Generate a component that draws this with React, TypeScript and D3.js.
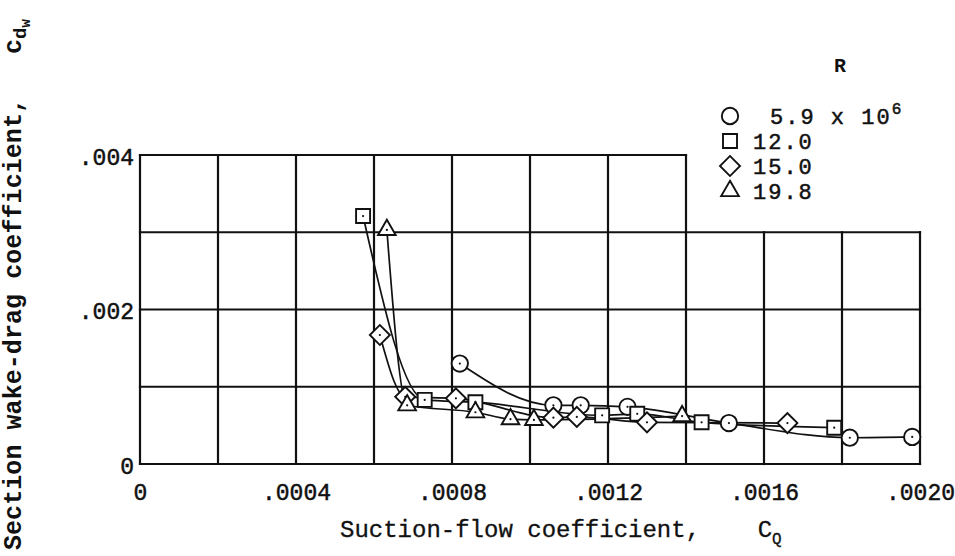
import React, { useEffect, useRef } from 'react';
import * as d3 from 'd3';

// axis ticks
const xTicks = [0, 0.0004, 0.0008, 0.0012, 0.0016, 0.002];
const xTickLabels = ['0', '.0004', '.0008', '.0012', '.0016', '.0020'];
const yTicks = [0, 0.002, 0.004];
const yTickLabels = ['0', '.002', '.004'];

// R = 5.9 x 10^6 (circles)
const circleCQ = [0.00082, 0.00106, 0.00113, 0.00125, 0.00151, 0.00182, 0.00198];
const circleCD = [0.0013, 0.00076, 0.00076, 0.00074, 0.00053, 0.00034, 0.00035];
// R = 12.0 (squares)
const squareCQ = [0.000572, 0.00073, 0.00086, 0.001185, 0.001275, 0.00144, 0.00178];
const squareCD = [0.00321, 0.00083, 0.0008, 0.00063, 0.00065, 0.00054, 0.00047];
// R = 15.0 (diamonds)
const diamondCQ = [0.000615, 0.00068, 0.00081, 0.00106, 0.00112, 0.0013, 0.00166];
const diamondCD = [0.00167, 0.00087, 0.00085, 0.0006, 0.00061, 0.00054, 0.00053];
// R = 19.8 (triangles)
const triangleCQ = [0.000633, 0.000685, 0.00086, 0.00095, 0.00101, 0.00139];
const triangleCD = [0.00303, 0.00076, 0.00067, 0.00058, 0.00057, 0.00062];

const legendLabels = ['5.9', '12.0', '15.0', '19.8'];

const MONO = "'Liberation Mono', 'DejaVu Sans Mono', monospace";
const INK = '#111';

export default function App() {
    const svgRef = useRef<SVGSVGElement>(null);

    useEffect(() => {
        const svg = d3.select(svgRef.current);
        svg.selectAll('*').remove();

        const x = d3.scaleLinear().domain([0, 0.002]).range([140, 920]);
        const y = d3.scaleLinear().domain([0, 0.004]).range([464, 155]);

        svg.append('rect').attr('width', 955).attr('height', 556).attr('fill', '#fff');

        // ---- Grid (stepped frame: top row stops at .0014)
        const grid = svg.append('g').attr('stroke', INK).attr('stroke-width', 2.2).attr('stroke-linecap', 'square');
        const gx = d3.range(0, 11).map(i => i * 0.0002);
        gx.forEach(v => {
            grid.append('line')
                .attr('x1', x(v)).attr('x2', x(v))
                .attr('y1', y(0)).attr('y2', y(v <= 0.00141 ? 0.004 : 0.003));
        });
        [0, 0.001, 0.002, 0.003].forEach(v => {
            grid.append('line')
                .attr('x1', x(0)).attr('x2', x(0.002))
                .attr('y1', y(v)).attr('y2', y(v));
        });
        grid.append('line')
            .attr('x1', x(0)).attr('x2', x(0.0014))
            .attr('y1', y(0.004)).attr('y2', y(0.004));

        // ---- Axes labels
        const xAxis = d3.axisBottom(x)
            .tickValues(xTicks)
            .tickSize(0)
            .tickPadding(0)
            .tickFormat((d, i) => xTickLabels[i]);
        const gxa = svg.append('g').attr('transform', `translate(0,${y(0) + 20})`).call(xAxis);
        gxa.select('.domain').remove();
        gxa.selectAll('text')
            .attr('dy', null)
            .attr('y', 16)
            .style('font-family', MONO)
            .style('font-size', '23px')
            .attr('fill', INK)
            .attr('stroke', INK)
            .attr('stroke-width', 0.5);

        const yAxis = d3.axisLeft(y)
            .tickValues(yTicks)
            .tickSize(0)
            .tickPadding(0)
            .tickFormat((d, i) => yTickLabels[i]);
        const gya = svg.append('g').attr('transform', `translate(134,0)`).call(yAxis);
        gya.select('.domain').remove();
        gya.selectAll('text')
            .attr('dy', '0.4em')
            .style('font-family', MONO)
            .style('font-size', '23px')
            .attr('fill', INK)
            .attr('stroke', INK)
            .attr('stroke-width', 0.5);

        // x title
        const xt = svg.append('text')
            .attr('x', 340)
            .attr('y', 537)
            .attr('fill', INK)
            .attr('stroke', INK)
            .attr('stroke-width', 0.3)
            .style('font-family', MONO)
            .style('font-size', '24px')
            .style('white-space', 'pre');
        xt.append('tspan').text('Suction-flow coefficient,    C');
        xt.append('tspan').attr('dy', 7).style('font-size', '16px').text('Q');

        // y title (main part stretched to reach near the top)
        svg.append('text')
            .attr('transform', 'translate(21,550) rotate(-90)')
            .attr('fill', INK)
            .attr('textLength', 452)
            .attr('lengthAdjust', 'spacing')
            .style('font-family', MONO)
            .style('font-weight', 'bold')
            .style('font-size', '25px')
            .text('Section wake-drag coefficient,');
        const yt2 = svg.append('text')
            .attr('transform', 'translate(21,54) rotate(-90)')
            .attr('fill', INK)
            .style('font-family', MONO)
            .style('font-weight', 'bold')
            .style('font-size', '25px');
        yt2.append('tspan').text('c');
        yt2.append('tspan').attr('dy', 5).style('font-size', '19px').text('d');
        yt2.append('tspan').attr('dy', 4).style('font-size', '14px').text('w');

        // ---- Series
        const series = [
            { cq: circleCQ, cd: circleCD, shape: 'circle' },
            { cq: squareCQ, cd: squareCD, shape: 'square' },
            { cq: diamondCQ, cd: diamondCD, shape: 'diamond' },
            { cq: triangleCQ, cd: triangleCD, shape: 'triangle' },
        ];

        const symbolPath = (shape: string) => {
            if (shape === 'circle') return d3.symbol(d3.symbolCircle, 210)();
            if (shape === 'square') return d3.symbol(d3.symbolSquare, 196)();
            if (shape === 'diamond') return d3.symbol(d3.symbolSquare, 200)();
            return d3.symbol(d3.symbolTriangle, 135)();
        };

        const line = d3.line<[number, number]>()
            .x(d => x(d[0]))
            .y(d => y(d[1]))
            .curve(d3.curveMonotoneX);

        series.forEach(s => {
            const pts = s.cq.map((v, i) => [v, s.cd[i]] as [number, number]).sort((a, b) => a[0] - b[0]);
            svg.append('path')
                .datum(pts)
                .attr('fill', 'none')
                .attr('stroke', INK)
                .attr('stroke-width', 1.7)
                .attr('d', line);
        });

        series.forEach(s => {
            s.cq.forEach((v, i) => {
                const rot = s.shape === 'diamond' ? ' rotate(45)' : '';
                svg.append('path')
                    .attr('d', symbolPath(s.shape))
                    .attr('transform', `translate(${x(v)},${y(s.cd[i])})${rot}`)
                    .attr('fill', '#fff')
                    .attr('stroke', INK)
                    .attr('stroke-width', 1.9);
                svg.append('circle')
                    .attr('cx', x(v))
                    .attr('cy', y(s.cd[i]))
                    .attr('r', 1.1)
                    .attr('fill', INK);
            });
        });

        // ---- Legend
        svg.append('text')
            .attr('x', 840)
            .attr('y', 72)
            .attr('text-anchor', 'middle')
            .attr('fill', INK)
            .style('font-family', MONO)
            .style('font-weight', 'bold')
            .style('font-size', '20px')
            .text('R');

        series.forEach((s, i) => {
            const cy = 116 + i * 25;
            const rot = s.shape === 'diamond' ? ' rotate(45)' : '';
            svg.append('path')
                .attr('d', symbolPath(s.shape))
                .attr('transform', `translate(730,${cy})${rot}`)
                .attr('fill', '#fff')
                .attr('stroke', INK)
                .attr('stroke-width', 1.9);
            const t = svg.append('text')
                .attr('x', i === 0 ? 770 : 753)
                .attr('y', cy + 8)
                .attr('fill', INK)
                .attr('stroke', INK)
                .attr('stroke-width', 0.5)
                .style('font-family', MONO)
                .style('font-size', '22px')
                .style('letter-spacing', '2px')
                .style('white-space', 'pre');
            if (i === 0) {
                t.append('tspan').text(`${legendLabels[i]} x 10`);
                t.append('tspan').attr('dy', -10).style('font-size', '16px').text('6');
            } else {
                t.text(legendLabels[i]);
            }
        });
    }, []);

    return (
        <svg
            ref={svgRef}
            width={955}
            height={556}
            style={{ position: 'absolute', left: 0, top: 0, display: 'block' }}
        />
    );
}
